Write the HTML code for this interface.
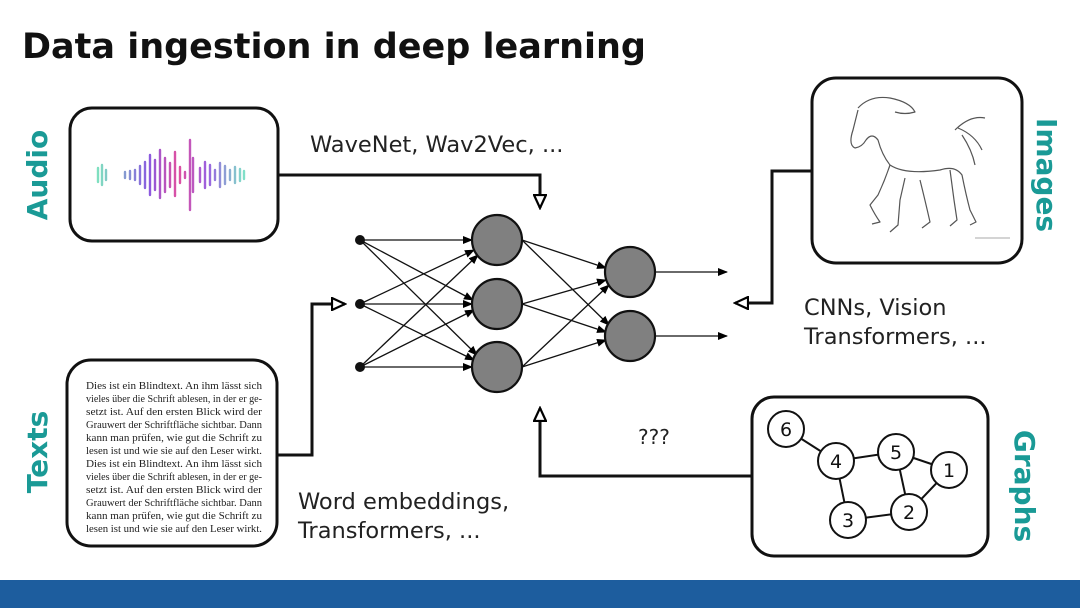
<!DOCTYPE html>
<html><head><meta charset="utf-8"><style>
html,body{margin:0;padding:0;background:#fff;}
svg{display:block;}
</style></head><body>
<svg width="1080" height="608" viewBox="0 0 1080 608" xmlns="http://www.w3.org/2000/svg" font-family="DejaVu Sans, Liberation Sans, sans-serif">
<defs>
<marker id="a" markerWidth="10" markerHeight="8" refX="9" refY="4" orient="auto" markerUnits="userSpaceOnUse"><path d="M0,0 L10,4 L0,8 z" fill="#000"/></marker>
<marker id="h" markerWidth="16" markerHeight="14" refX="14" refY="7" orient="auto" markerUnits="userSpaceOnUse"><path d="M1,1 L14,7 L1,13 z" fill="#fff" stroke="#000" stroke-width="2.2"/></marker>
<linearGradient id="wg" x1="0" x2="1"><stop offset="0" stop-color="#7fe0c0"/><stop offset="0.35" stop-color="#8a5ae0"/><stop offset="0.55" stop-color="#e050a0"/><stop offset="0.75" stop-color="#9a60e0"/><stop offset="1" stop-color="#80e0c8"/></linearGradient>
</defs>
<rect width="1080" height="608" fill="#fff"/>
<text x="22" y="58" font-size="35" font-weight="bold" fill="#111">Data ingestion in deep learning</text>
<rect x="0" y="580" width="1080" height="28" fill="#1d5d9e"/>

<rect x="70" y="108" width="208" height="133" rx="22" fill="#fff" stroke="#111" stroke-width="3"/>
<rect x="67" y="360" width="210" height="186" rx="24" fill="#fff" stroke="#111" stroke-width="3"/>
<rect x="812" y="78" width="210" height="185" rx="24" fill="#fff" stroke="#111" stroke-width="3"/>
<rect x="752" y="397" width="236" height="159" rx="22" fill="#fff" stroke="#111" stroke-width="3"/>

<g font-weight="bold" font-size="28" fill="#1a9a96">
<text transform="translate(47,175) rotate(-90)" text-anchor="middle">Audio</text>
<text transform="translate(47,452) rotate(-90)" text-anchor="middle">Texts</text>
<text transform="translate(1037,175) rotate(90)" text-anchor="middle">Images</text>
<text transform="translate(1015,486) rotate(90)" text-anchor="middle">Graphs</text>
</g>

<g stroke="url(#wg)" stroke-width="2.4" stroke-linecap="round">
<line x1="95" y1="175" x2="250" y2="175" stroke-width="3"/>
<path d="M98 168V182M102 165V185M106 170V180M125 172V178M130 171V179M135 170V180M140 166V184M145 162V188M150 155V195M155 160V190M160 150V198M165 158V192M170 163V187M175 152V196M180 167V183M185 172V178M190 140V210M193 158V192M200 168V182M205 162V188M210 165V185M215 170V180M220 163V187M225 166V184M230 170V180M235 167V183M240 169V181M244 171V179"/>
</g>

<g style="font-family:'Liberation Serif',serif" font-size="10.6" fill="#222">
<text x="86" y="389" textLength="176" lengthAdjust="spacingAndGlyphs">Dies ist ein Blindtext. An ihm lässt sich</text>
<text x="86" y="402" textLength="176" lengthAdjust="spacingAndGlyphs">vieles über die Schrift ablesen, in der er ge-</text>
<text x="86" y="415" textLength="176" lengthAdjust="spacingAndGlyphs">setzt ist. Auf den ersten Blick wird der</text>
<text x="86" y="428" textLength="176" lengthAdjust="spacingAndGlyphs">Grauwert der Schriftfläche sichtbar. Dann</text>
<text x="86" y="441" textLength="176" lengthAdjust="spacingAndGlyphs">kann man prüfen, wie gut die Schrift zu</text>
<text x="86" y="454" textLength="176" lengthAdjust="spacingAndGlyphs">lesen ist und wie sie auf den Leser wirkt.</text>
<text x="86" y="467" textLength="176" lengthAdjust="spacingAndGlyphs">Dies ist ein Blindtext. An ihm lässt sich</text>
<text x="86" y="480" textLength="176" lengthAdjust="spacingAndGlyphs">vieles über die Schrift ablesen, in der er ge-</text>
<text x="86" y="493" textLength="176" lengthAdjust="spacingAndGlyphs">setzt ist. Auf den ersten Blick wird der</text>
<text x="86" y="506" textLength="176" lengthAdjust="spacingAndGlyphs">Grauwert der Schriftfläche sichtbar. Dann</text>
<text x="86" y="519" textLength="176" lengthAdjust="spacingAndGlyphs">kann man prüfen, wie gut die Schrift zu</text>
<text x="86" y="532" textLength="176" lengthAdjust="spacingAndGlyphs">lesen ist und wie sie auf den Leser wirkt.</text>
</g>

<g fill="none" stroke="#555" stroke-width="1.2" stroke-linejoin="round">
<path d="M858 110 L853 130 Q848 145 855 148 Q862 147 866 140 Q872 132 878 140 Q882 155 890 165 Q905 175 940 170 Q955 165 962 175 Q966 195 970 210 L976 222 L970 225"/>
<path d="M858 108 Q870 95 890 98 Q910 102 915 112 Q905 115 895 112 M890 165 Q885 180 878 195 L870 205 Q875 215 880 222 L872 224"/>
<path d="M905 178 L900 200 L898 225 L890 232 M920 180 Q925 200 930 222 L922 228 M950 170 L954 200 L957 220 L950 226"/>
<path d="M955 130 Q970 115 985 118 M958 128 Q975 135 982 150 M962 135 Q972 150 975 165"/>
<line x1="975" y1="238" x2="1010" y2="238" stroke="#bbb"/>
</g>

<g stroke="#111" stroke-width="2" fill="#fff">
<line x1="786" y1="429" x2="836" y2="461"/>
<line x1="836" y1="461" x2="896" y2="452"/>
<line x1="896" y1="452" x2="949" y2="470"/>
<line x1="896" y1="452" x2="909" y2="512"/>
<line x1="949" y1="470" x2="909" y2="512"/>
<line x1="909" y1="512" x2="848" y2="520"/>
<line x1="836" y1="461" x2="848" y2="520"/>
<circle cx="786" cy="429" r="18"/><circle cx="836" cy="461" r="18"/><circle cx="896" cy="452" r="18"/>
<circle cx="949" cy="470" r="18"/><circle cx="909" cy="512" r="18"/><circle cx="848" cy="520" r="18"/>
</g>
<g font-size="19" text-anchor="middle" fill="#111">
<text x="786" y="436">6</text><text x="836" y="468">4</text><text x="896" y="459">5</text>
<text x="949" y="477">1</text><text x="909" y="519">2</text><text x="848" y="527">3</text>
</g>

<g fill="none" stroke="#111" stroke-width="3">
<polyline points="278,175 540,175 540,208" marker-end="url(#h)"/>
<polyline points="277,455 312,455 312,304 345,304" marker-end="url(#h)"/>
<polyline points="752,476 540,476 540,408" marker-end="url(#h)"/>
<polyline points="812,171 772,171 772,303 735,303" marker-end="url(#h)"/>
</g>

<g stroke="#111" stroke-width="1.3" marker-end="url(#a)">
<line x1="360" y1="240" x2="472" y2="240"/><line x1="360" y1="240" x2="473" y2="300"/><line x1="360" y1="240" x2="477" y2="355"/>
<line x1="360" y1="304" x2="474" y2="250"/><line x1="360" y1="304" x2="472" y2="304"/><line x1="360" y1="304" x2="474" y2="360"/>
<line x1="360" y1="367" x2="478" y2="255"/><line x1="360" y1="367" x2="474" y2="310"/><line x1="360" y1="367" x2="472" y2="367"/>
<line x1="522" y1="240" x2="606" y2="268"/><line x1="522" y1="240" x2="609" y2="325"/>
<line x1="522" y1="304" x2="606" y2="280"/><line x1="522" y1="304" x2="606" y2="332"/>
<line x1="522" y1="367" x2="609" y2="285"/><line x1="522" y1="367" x2="606" y2="340"/>
<line x1="655" y1="272" x2="727" y2="272"/><line x1="655" y1="336" x2="727" y2="336"/>
</g>
<g fill="#111"><circle cx="360" cy="240" r="5"/><circle cx="360" cy="304" r="5"/><circle cx="360" cy="367" r="5"/></g>
<g fill="#808080" stroke="#111" stroke-width="2.2">
<circle cx="497" cy="240" r="25"/><circle cx="497" cy="304" r="25"/><circle cx="497" cy="367" r="25"/>
<circle cx="630" cy="272" r="25"/><circle cx="630" cy="336" r="25"/>
</g>

<g font-size="22.5" fill="#222">
<text x="310" y="152">WaveNet, Wav2Vec, ...</text>
<text x="804" y="315">CNNs, Vision</text>
<text x="804" y="344">Transformers, ...</text>
<text x="638" y="444" font-size="20">???</text>
<text x="298" y="509">Word embeddings,</text>
<text x="298" y="538">Transformers, ...</text>
</g>
</svg>
</body></html>
